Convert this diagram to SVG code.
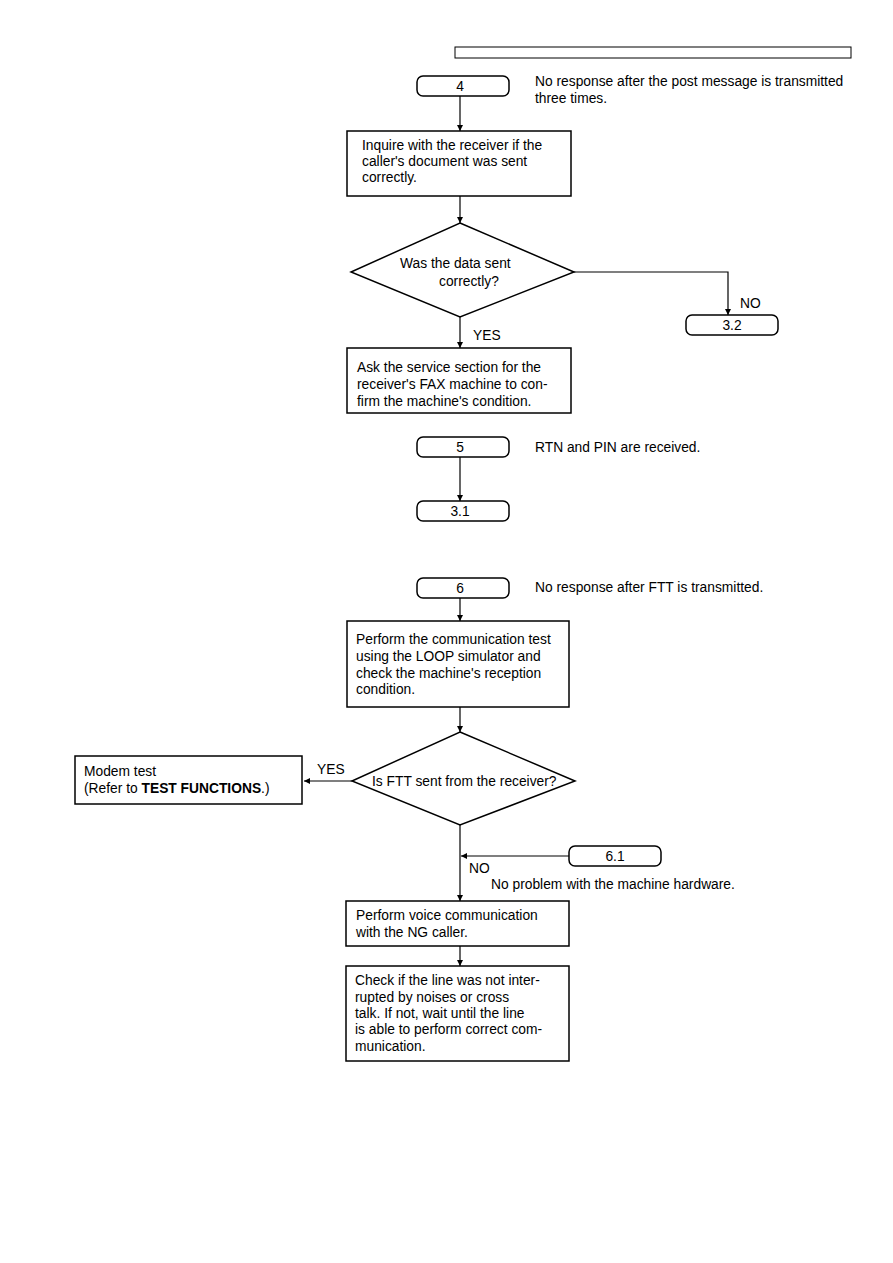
<svg xmlns="http://www.w3.org/2000/svg" width="893" height="1263" viewBox="0 0 893 1263">
<style>
.box{fill:#fff;stroke:#000;stroke-width:1.5}
.term{fill:#fff;stroke:#000;stroke-width:1.5}
.ln{fill:none;stroke:#000;stroke-width:1.2}
text{font-family:"Liberation Sans",Arial,sans-serif;font-size:13.8px;fill:#000}
.c{text-anchor:middle}
</style>
<defs>
<marker id="ah" viewBox="0 0 10 10" refX="10" refY="5" markerWidth="6" markerHeight="6" markerUnits="userSpaceOnUse" orient="auto">
<path d="M0,0 L10,5 L0,10 z" fill="#000"/>
</marker>
</defs>
<rect x="455" y="47" width="396" height="11" fill="#fff" stroke="#000" stroke-width="1"/>
<g id="connectors">
<path class="ln" d="M460,96 V131" marker-end="url(#ah)"/>
<path class="ln" d="M460,196 V223" marker-end="url(#ah)"/>
<path class="ln" d="M574,272 H728 V315" marker-end="url(#ah)"/>
<path class="ln" d="M460,317 V348" marker-end="url(#ah)"/>
<path class="ln" d="M460,457 V501" marker-end="url(#ah)"/>
<path class="ln" d="M460,598 V621" marker-end="url(#ah)"/>
<path class="ln" d="M460,707 V732" marker-end="url(#ah)"/>
<path class="ln" d="M352,781 H304" marker-end="url(#ah)"/>
<path class="ln" d="M460,825 V901" marker-end="url(#ah)"/>
<path class="ln" d="M569,856 H461" marker-end="url(#ah)"/>
<path class="ln" d="M460,946 V966" marker-end="url(#ah)"/>
<text x="740" y="308">NO</text>
<text x="473" y="340">YES</text>
<text x="317" y="774">YES</text>
<text x="469" y="873">NO</text>
</g>
<g id="t4">
<rect class="term" x="417" y="76" width="92" height="20" rx="6"/>
<text class="c" x="460" y="91">4</text>
<text x="535" y="86">No response after the post message is transmitted</text>
<text x="535" y="103">three times.</text>
</g>
<g id="b1">
<rect class="box" x="347" y="131" width="224" height="65"/>
<text x="362" y="150">Inquire with the receiver if the</text>
<text x="362" y="166">caller's document was sent</text>
<text x="362" y="182">correctly.</text>
</g>
<g id="d1">
<polygon class="box" points="460,223 574,272 460,317 351,272"/>
<text x="400" y="268">Was the data sent</text>
<text x="439" y="286">correctly?</text>
</g>
<g id="t32">
<rect class="term" x="686" y="315" width="92" height="20" rx="6"/>
<text class="c" x="732" y="330">3.2</text>
</g>
<g id="b2">
<rect class="box" x="347" y="348" width="224" height="65"/>
<text x="357" y="372">Ask the service section for the</text>
<text x="357" y="389">receiver's FAX machine to con-</text>
<text x="357" y="406">firm the machine's condition.</text>
</g>
<g id="t5">
<rect class="term" x="417" y="437" width="92" height="20" rx="6"/>
<text class="c" x="460" y="452">5</text>
<text x="535" y="452">RTN and PIN are received.</text>
</g>
<g id="t31">
<rect class="term" x="417" y="501" width="92" height="20" rx="6"/>
<text class="c" x="460" y="516">3.1</text>
</g>
<g id="t6">
<rect class="term" x="417" y="578" width="92" height="20" rx="6"/>
<text class="c" x="460" y="593">6</text>
<text x="535" y="592">No response after FTT is transmitted.</text>
</g>
<g id="b3">
<rect class="box" x="347" y="621" width="222" height="86"/>
<text x="356" y="644">Perform the communication test</text>
<text x="356" y="661">using the LOOP simulator and</text>
<text x="356" y="678">check the machine's reception</text>
<text x="356" y="694">condition.</text>
</g>
<g id="d2">
<polygon class="box" points="460,732 575,781 460,825 352,781"/>
<text x="372" y="786">Is FTT sent from the receiver?</text>
</g>
<g id="modem">
<rect class="box" x="75" y="756" width="227" height="48"/>
<text x="84" y="776">Modem test</text>
<text x="84" y="793">(Refer to <tspan font-weight="bold">TEST FUNCTIONS</tspan>.)</text>
</g>
<g id="t61">
<rect class="term" x="569" y="846" width="92" height="20" rx="6"/>
<text class="c" x="615" y="861">6.1</text>
<text x="491" y="889">No problem with the machine hardware.</text>
</g>
<g id="b4">
<rect class="box" x="346" y="901" width="223" height="45"/>
<text x="356" y="920">Perform voice communication</text>
<text x="356" y="937">with the NG caller.</text>
</g>
<g id="b5">
<rect class="box" x="346" y="966" width="223" height="95"/>
<text x="355" y="985">Check if the line was not inter-</text>
<text x="355" y="1002">rupted by noises or cross</text>
<text x="355" y="1018">talk. If not, wait until the line</text>
<text x="355" y="1034">is able to perform correct com-</text>
<text x="355" y="1051">munication.</text>
</g>
</svg>
